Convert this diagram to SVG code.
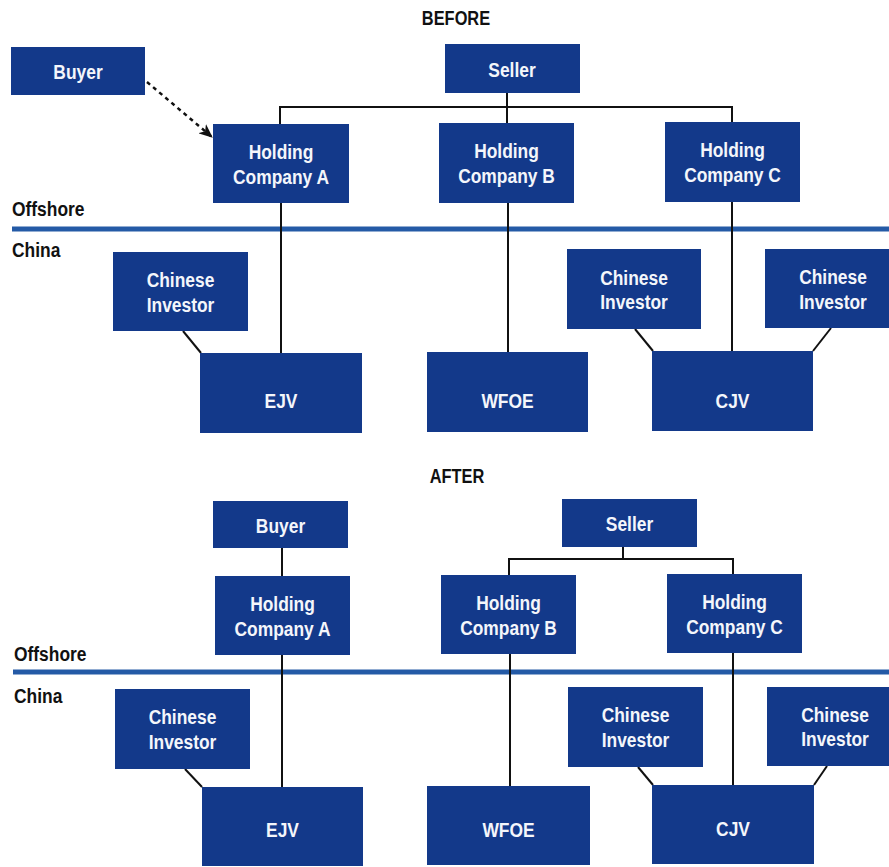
<svg xmlns="http://www.w3.org/2000/svg" width="889" height="867" viewBox="0 0 889 867">
<style>
  .box { fill: #13398a; }
  .t { font-family: "Liberation Sans", Arial, sans-serif; font-weight: bold; font-size: 20px; fill: #f4f6fb; text-anchor: middle; }
  .lbl { font-family: "Liberation Sans", Arial, sans-serif; font-weight: bold; font-size: 20px; fill: #111; }
  .ttl { font-family: "Liberation Sans", Arial, sans-serif; font-weight: bold; font-size: 20px; fill: #111; text-anchor: middle; }
  .band { stroke: #245aa6; stroke-width: 5; fill: none; }
  .ln { stroke: #111; stroke-width: 2; fill: none; }
  .dash { stroke: #111; stroke-width: 2.5; fill: none; stroke-dasharray: 4 4; }
</style>
<defs>
  <marker id="arr" viewBox="0 0 14 12" refX="13" refY="6" markerWidth="14" markerHeight="12" markerUnits="userSpaceOnUse" orient="auto">
    <path d="M0,0 L14,6 L0,12 L4,6 Z" fill="#111"/>
  </marker>
</defs>
<rect width="889" height="867" fill="#fff"/>

<!-- BEFORE -->
<g id="labels-before">
  <text class="ttl" transform="translate(456,25) scale(0.82,1)">BEFORE</text>
  <text class="lbl" transform="translate(12,216) scale(0.87,1)">Offshore</text>
  <text class="lbl" transform="translate(12,257) scale(0.87,1)">China</text>
</g>
<line class="band" x1="12" y1="229" x2="889" y2="229"/>

<g id="connectors-before">
  <path class="ln" d="M507,93 V123 M280,124 V107 H732 V122"/>
  <path class="ln" d="M281,203 V353"/>
  <path class="ln" d="M508,203 V352"/>
  <path class="ln" d="M732,202 V351"/>
  <path class="ln" d="M183,331 L201,353"/>
  <path class="ln" d="M635,329 L653,351"/>
  <path class="ln" d="M831,328 L813,351"/>
  <path class="dash" d="M147,82 L212,137" marker-end="url(#arr)"/>
</g>

<g id="buyer-before"><rect class="box" x="11" y="47" width="134" height="48"/><text class="t" transform="translate(78,78.5) scale(0.87,1)">Buyer</text></g>
<g id="seller-before"><rect class="box" x="445" y="44" width="135" height="49"/><text class="t" transform="translate(512,76.5) scale(0.87,1)">Seller</text></g>
<g id="holdingA-before"><rect class="box" x="213" y="124" width="136" height="79"/><text class="t" transform="translate(281,159) scale(0.87,1)"><tspan x="0" y="0">Holding</tspan><tspan x="0" y="25">Company A</tspan></text></g>
<g id="holdingB-before"><rect class="box" x="439" y="123" width="135" height="80"/><text class="t" transform="translate(506.5,158) scale(0.87,1)"><tspan x="0" y="0">Holding</tspan><tspan x="0" y="25">Company B</tspan></text></g>
<g id="holdingC-before"><rect class="box" x="665" y="122" width="135" height="80"/><text class="t" transform="translate(732.5,157) scale(0.87,1)"><tspan x="0" y="0">Holding</tspan><tspan x="0" y="25">Company C</tspan></text></g>
<g id="investor1-before"><rect class="box" x="113" y="252" width="135" height="79"/><text class="t" transform="translate(180.5,287) scale(0.87,1)"><tspan x="0" y="0">Chinese</tspan><tspan x="0" y="25">Investor</tspan></text></g>
<g id="ejv-before"><rect class="box" x="200" y="353" width="162" height="80"/><text class="t" transform="translate(281,408) scale(0.87,1)">EJV</text></g>
<g id="wfoe-before"><rect class="box" x="427" y="352" width="161" height="80"/><text class="t" transform="translate(507.5,408) scale(0.87,1)">WFOE</text></g>
<g id="investor2-before"><rect class="box" x="567" y="249" width="134" height="80"/><text class="t" transform="translate(634,284.5) scale(0.87,1)"><tspan x="0" y="0">Chinese</tspan><tspan x="0" y="25">Investor</tspan></text></g>
<g id="investor3-before"><rect class="box" x="765" y="249" width="136" height="79"/><text class="t" transform="translate(833,284) scale(0.87,1)"><tspan x="0" y="0">Chinese</tspan><tspan x="0" y="25">Investor</tspan></text></g>
<g id="cjv-before"><rect class="box" x="652" y="351" width="161" height="80"/><text class="t" transform="translate(732.5,408) scale(0.87,1)">CJV</text></g>

<!-- AFTER -->
<g id="labels-after">
  <text class="ttl" transform="translate(457,483) scale(0.82,1)">AFTER</text>
  <text class="lbl" transform="translate(14,661) scale(0.87,1)">Offshore</text>
  <text class="lbl" transform="translate(14,703) scale(0.87,1)">China</text>
</g>
<line class="band" x1="13" y1="672" x2="889" y2="672"/>

<g id="connectors-after">
  <path class="ln" d="M282,548 V576"/>
  <path class="ln" d="M623,547 V559 M509,575 V559 H733 V574"/>
  <path class="ln" d="M282,655 V787"/>
  <path class="ln" d="M510,654 V786"/>
  <path class="ln" d="M733,653 V785"/>
  <path class="ln" d="M185,769 L202,787"/>
  <path class="ln" d="M638,767 L653,785"/>
  <path class="ln" d="M827,766 L814,785"/>
</g>

<g id="buyer-after"><rect class="box" x="213" y="501" width="135" height="47"/><text class="t" transform="translate(280.5,532.5) scale(0.87,1)">Buyer</text></g>
<g id="seller-after"><rect class="box" x="562" y="499" width="135" height="48"/><text class="t" transform="translate(629.5,531) scale(0.87,1)">Seller</text></g>
<g id="holdingA-after"><rect class="box" x="215" y="576" width="135" height="79"/><text class="t" transform="translate(282.5,611) scale(0.87,1)"><tspan x="0" y="0">Holding</tspan><tspan x="0" y="25">Company A</tspan></text></g>
<g id="holdingB-after"><rect class="box" x="441" y="575" width="135" height="79"/><text class="t" transform="translate(508.5,610) scale(0.87,1)"><tspan x="0" y="0">Holding</tspan><tspan x="0" y="25">Company B</tspan></text></g>
<g id="holdingC-after"><rect class="box" x="667" y="574" width="135" height="79"/><text class="t" transform="translate(734.5,609) scale(0.87,1)"><tspan x="0" y="0">Holding</tspan><tspan x="0" y="25">Company C</tspan></text></g>
<g id="investor1-after"><rect class="box" x="115" y="689" width="135" height="80"/><text class="t" transform="translate(182.5,724) scale(0.87,1)"><tspan x="0" y="0">Chinese</tspan><tspan x="0" y="25">Investor</tspan></text></g>
<g id="ejv-after"><rect class="box" x="202" y="787" width="161" height="79"/><text class="t" transform="translate(282.5,837) scale(0.87,1)">EJV</text></g>
<g id="wfoe-after"><rect class="box" x="427" y="786" width="163" height="79"/><text class="t" transform="translate(508.5,837) scale(0.87,1)">WFOE</text></g>
<g id="investor2-after"><rect class="box" x="568" y="687" width="135" height="80"/><text class="t" transform="translate(635.5,722) scale(0.87,1)"><tspan x="0" y="0">Chinese</tspan><tspan x="0" y="25">Investor</tspan></text></g>
<g id="investor3-after"><rect class="box" x="767" y="687" width="136" height="79"/><text class="t" transform="translate(835,721.5) scale(0.87,1)"><tspan x="0" y="0">Chinese</tspan><tspan x="0" y="25">Investor</tspan></text></g>
<g id="cjv-after"><rect class="box" x="652" y="785" width="162" height="79"/><text class="t" transform="translate(733,836) scale(0.87,1)">CJV</text></g>
</svg>
